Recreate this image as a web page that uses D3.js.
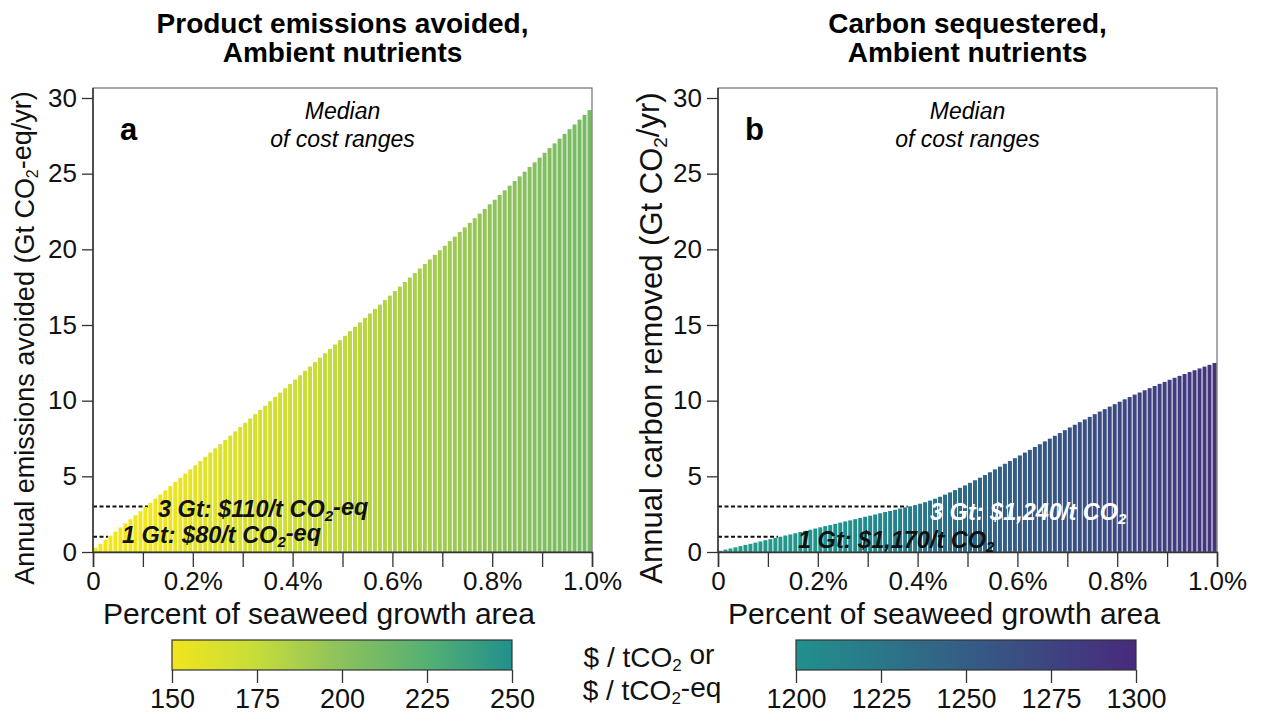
<!DOCTYPE html>
<html>
<head>
<meta charset="utf-8">
<script src="https://cdn.jsdelivr.net/npm/d3@7"></script>
<style>
  html, body { margin: 0; padding: 0; background: #fff; }
  svg { display: block; font-family: "Liberation Sans", Arial, Helvetica, sans-serif; }
</style>
</head>
<body>
<svg id="chart" width="1270" height="715"></svg>
<script>
// Annual product emissions avoided per 0.01% step of seaweed growth area (Gt CO2-eq/yr)
const emissionsAvoided = [
  0.27, 0.54, 0.81, 1.08, 1.35, 1.62, 1.89, 2.16, 2.43, 2.70,
  2.98, 3.25, 3.53, 3.80, 4.07, 4.35, 4.63, 4.90, 5.18, 5.46,
  5.73, 6.01, 6.29, 6.57, 6.85, 7.13, 7.41, 7.69, 7.97, 8.26,
  8.54, 8.82, 9.11, 9.39, 9.67, 9.96, 10.25, 10.53, 10.82, 11.10,
  11.39, 11.68, 11.97, 12.26, 12.55, 12.84, 13.13, 13.42, 13.71, 14.00,
  14.29, 14.59, 14.88, 15.17, 15.47, 15.76, 16.06, 16.35, 16.65, 16.94,
  17.24, 17.54, 17.84, 18.14, 18.43, 18.73, 19.03, 19.33, 19.64, 19.94,
  20.24, 20.54, 20.84, 21.15, 21.45, 21.75, 22.06, 22.36, 22.67, 22.98,
  23.28, 23.59, 23.90, 24.21, 24.51, 24.82, 25.13, 25.44, 25.75, 26.06,
  26.38, 26.69, 27.00, 27.31, 27.63, 27.94, 28.25, 28.57, 28.88, 29.20
];
// Median cost of each step ($/t CO2-eq)
const costAvoided = [
  130, 132, 134, 136, 138, 140, 142, 144, 146, 147,
  148, 149, 150, 151, 152, 153, 154, 155, 155, 156,
  157, 158, 159, 160, 160, 161, 162, 163, 163, 164,
  165, 166, 166, 167, 168, 168, 169, 170, 170, 171,
  172, 172, 173, 174, 174, 175, 176, 176, 177, 178,
  178, 179, 180, 180, 181, 181, 182, 183, 183, 184,
  185, 185, 186, 187, 187, 188, 189, 189, 190, 191,
  191, 192, 193, 193, 194, 194, 195, 196, 196, 197,
  198, 198, 199, 200, 200, 201, 202, 202, 203, 204,
  204, 205, 206, 206, 207, 207, 208, 209, 209, 210
];
// Annual carbon removed per 0.01% step of seaweed growth area (Gt CO2/yr)
const carbonRemoved = [
  0.08, 0.16, 0.23, 0.31, 0.39, 0.47, 0.54, 0.62, 0.70, 0.78,
  0.85, 0.93, 1.01, 1.09, 1.16, 1.24, 1.32, 1.40, 1.47, 1.55,
  1.63, 1.71, 1.78, 1.86, 1.94, 2.02, 2.09, 2.17, 2.25, 2.33,
  2.40, 2.48, 2.56, 2.64, 2.71, 2.79, 2.87, 2.95, 3.02, 3.10,
  3.19, 3.29, 3.40, 3.52, 3.65, 3.79, 3.94, 4.09, 4.24, 4.40,
  4.57, 4.74, 4.91, 5.09, 5.27, 5.46, 5.64, 5.83, 6.01, 6.20,
  6.38, 6.57, 6.75, 6.94, 7.12, 7.31, 7.49, 7.68, 7.86, 8.05,
  8.23, 8.41, 8.58, 8.76, 8.93, 9.11, 9.28, 9.44, 9.61, 9.77,
  9.93, 10.09, 10.24, 10.40, 10.54, 10.69, 10.83, 10.97, 11.11, 11.24,
  11.38, 11.51, 11.64, 11.76, 11.89, 12.01, 12.13, 12.25, 12.37, 12.49
];
// Median cost of each step ($/t CO2)
const costRemoved = [
  1175, 1176, 1177, 1178, 1179, 1180, 1181, 1182, 1183, 1184,
  1185, 1186, 1187, 1188, 1189, 1190, 1191, 1192, 1193, 1194,
  1195, 1196, 1197, 1198, 1199, 1200, 1201, 1203, 1204, 1205,
  1207, 1208, 1210, 1211, 1213, 1215, 1216, 1218, 1220, 1222,
  1224, 1226, 1228, 1229, 1231, 1232, 1234, 1235, 1237, 1238,
  1239, 1241, 1242, 1243, 1244, 1245, 1247, 1248, 1249, 1250,
  1251, 1252, 1253, 1254, 1255, 1256, 1257, 1258, 1259, 1260,
  1261, 1262, 1263, 1264, 1265, 1266, 1267, 1268, 1269, 1270,
  1271, 1272, 1273, 1274, 1275, 1276, 1277, 1278, 1279, 1280,
  1281, 1282, 1283, 1284, 1285, 1286, 1287, 1288, 1289, 1290
];

const xTickValues = [0, 0.1, 0.2, 0.3, 0.4, 0.5, 0.6, 0.7, 0.8, 0.9, 1.0];
const xTickLabels = ["0", "", "0.2%", "", "0.4%", "", "0.6%", "", "0.8%", "", "1.0%"];
const yTickValues = [0, 5, 10, 15, 20, 25, 30];
const colorTicksAvoided = [150, 175, 200, 225, 250];
const colorTicksRemoved = [1200, 1225, 1250, 1275, 1300];

// Colour ramps for the two cost scales
const rampAvoidedDomain = [150, 175, 200, 225, 250];
const rampAvoidedColors = ["#f1e51d", "#c6dc3b", "#8cc15e", "#55b072", "#21908d"];
const rampRemovedDomain = [1150, 1200, 1300];
const rampRemovedColors = ["#26a984", "#21908d", "#482a7c"];

// Cost thresholds marked on each panel
const markersAvoided = [
  { gt: 1, pre: "1 Gt: $80/t CO", post: "-eq", fill: "#111" },
  { gt: 3, pre: "3 Gt: $110/t CO", post: "-eq", fill: "#111" }
];
const markersRemoved = [
  { gt: 1, pre: "1 Gt: $1,170/t CO", post: "", fill: "#111" },
  { gt: 3, pre: "3 Gt: $1,240/t CO", post: "", fill: "#fff" }
];

const svg = d3.select("#chart");
const FONT = '"Liberation Sans", Arial, Helvetica, sans-serif';

const colorAvoided = d3.scaleLinear().domain(rampAvoidedDomain).range(rampAvoidedColors)
  .interpolate(d3.interpolateRgb).clamp(true);
const colorRemoved = d3.scaleLinear().domain(rampRemovedDomain).range(rampRemovedColors)
  .interpolate(d3.interpolateRgb).clamp(true);

function textWithSub(sel, pre, sub, post, subSize) {
  sel.append("tspan").text(pre);
  sel.append("tspan").attr("dy", "0.25em").attr("font-size", subSize).text(sub);
  sel.append("tspan").attr("dy", "-0.25em").text(post);
}

function panel(cfg) {
  const x0 = cfg.left, width = 499, top = 88, bottom = 552;
  const x = d3.scaleLinear().domain([0, 1]).range([x0, x0 + width]);
  const y = d3.scaleLinear().domain([0, 30]).range([bottom, 98]);
  const g = svg.append("g");
  const n = cfg.values.length;
  const step = 1 / n;

  // Titles
  const cx = x0 + width / 2;
  g.append("text").attr("x", cx).attr("y", 33).attr("text-anchor", "middle")
    .attr("font-size", 28).attr("font-weight", "bold").text(cfg.title1);
  g.append("text").attr("x", cx).attr("y", 62).attr("text-anchor", "middle")
    .attr("font-size", 28).attr("font-weight", "bold").text(cfg.title2);

  // Dashed threshold lines (drawn beneath the bars)
  cfg.markers.forEach(m => {
    const idx = cfg.values.findIndex(v => v >= m.gt);
    g.append("line")
      .attr("x1", x(0)).attr("x2", x(idx * step))
      .attr("y1", y(m.gt)).attr("y2", y(m.gt))
      .attr("stroke", "#111").attr("stroke-width", 2)
      .attr("stroke-dasharray", "4,2.5");
  });

  // Bars
  const bw = x(step) - x(0);
  g.append("g").selectAll("rect").data(cfg.values).join("rect")
    .attr("x", (d, i) => x(i * step) + bw * 0.1)
    .attr("width", bw * 0.8)
    .attr("y", d => y(d))
    .attr("height", d => y(0) - y(d))
    .attr("fill", (d, i) => cfg.color(cfg.costs[i]));

  // Frame
  g.append("rect").attr("x", x0).attr("y", top).attr("width", width).attr("height", bottom - top)
    .attr("fill", "none").attr("stroke", "#555").attr("stroke-width", 1);

  // Axes
  const xAxis = d3.axisBottom(x).tickValues(xTickValues).tickSize(15).tickPadding(5)
    .tickFormat((d, i) => xTickLabels[i]);
  const gx = g.append("g").attr("transform", `translate(0,${bottom})`).call(xAxis);
  gx.select(".domain").attr("stroke", "#333").attr("stroke-width", 1.5);
  gx.selectAll(".tick line").attr("stroke", "#333").attr("stroke-width", 1.3);
  gx.selectAll(".tick text").attr("font-size", 26).attr("font-family", FONT).attr("fill", "#111");

  const yAxis = d3.axisLeft(y).tickValues(yTickValues).tickSize(11).tickPadding(5);
  const gy = g.append("g").attr("transform", `translate(${x0},0)`).call(yAxis);
  gy.select(".domain").attr("stroke", "#333").attr("stroke-width", 1.5)
    .attr("d", `M0,${top}V${bottom}`);
  gy.selectAll(".tick line").attr("stroke", "#333").attr("stroke-width", 1.3);
  gy.selectAll(".tick text").attr("font-size", 26).attr("font-family", FONT).attr("fill", "#111");

  // Axis titles
  g.append("text").attr("x", x0 + 226).attr("y", 624).attr("text-anchor", "middle")
    .attr("font-size", 30).attr("fill", "#111").text("Percent of seaweed growth area");
  const yt = g.append("text")
    .attr("transform", `translate(${x0 - cfg.yTitleOffset},338) rotate(-90)`)
    .attr("text-anchor", "middle").attr("font-size", cfg.yTitleSize).attr("fill", "#111");
  textWithSub(yt, cfg.yPre, "2", cfg.yPost, Math.round(cfg.yTitleSize * 0.6));

  // Panel letter and note
  g.append("text").attr("x", x0 + 27).attr("y", 140).attr("font-size", 31)
    .attr("font-weight", "bold").text(cfg.letter);
  g.append("text").attr("x", cx).attr("y", 119).attr("text-anchor", "middle")
    .attr("font-size", 23).attr("font-style", "italic").text("Median");
  g.append("text").attr("x", cx).attr("y", 147).attr("text-anchor", "middle")
    .attr("font-size", 23).attr("font-style", "italic").text("of cost ranges");

  // Threshold annotations
  cfg.markers.forEach((m, i) => {
    const t = g.append("text").attr("x", cfg.labelPos[i][0]).attr("y", cfg.labelPos[i][1])
      .attr("font-size", 23.5).attr("font-weight", "bold").attr("font-style", "italic")
      .attr("fill", m.fill);
    textWithSub(t, m.pre, "2", m.post, 15);
  });
}

panel({
  left: 93, title1: "Product emissions avoided,", title2: "Ambient nutrients",
  values: emissionsAvoided, costs: costAvoided, color: colorAvoided,
  markers: markersAvoided, labelPos: [[122, 543], [158, 517]],
  yPre: "Annual emissions avoided (Gt CO", yPost: "-eq/yr)", letter: "a",
  yTitleSize: 27, yTitleOffset: 59
});
panel({
  left: 718, title1: "Carbon sequestered,", title2: "Ambient nutrients",
  values: carbonRemoved, costs: costRemoved, color: colorRemoved,
  markers: markersRemoved, labelPos: [[798, 548], [930, 520]],
  yPre: "Annual carbon removed (Gt CO", yPost: "/yr)", letter: "b",
  yTitleSize: 31, yTitleOffset: 56
});

// Colour bars
function colorbar(cfg) {
  const x = d3.scaleLinear().domain(d3.extent(cfg.ticks)).range([cfg.left, cfg.left + 340]);
  const id = "grad-" + cfg.name;
  const grad = svg.append("defs").append("linearGradient").attr("id", id)
    .attr("x1", "0%").attr("x2", "100%").attr("y1", "0%").attr("y2", "0%");
  const dom = x.domain();
  d3.range(0, 1.0001, 0.05).forEach(f => {
    const v = dom[0] + f * (dom[1] - dom[0]);
    grad.append("stop").attr("offset", (f * 100) + "%").attr("stop-color", cfg.color(v));
  });
  const g = svg.append("g");
  g.append("rect").attr("x", x.range()[0]).attr("y", 640).attr("width", 340).attr("height", 30)
    .attr("fill", `url(#${id})`).attr("stroke", "#333").attr("stroke-width", 1.2);
  const ax = d3.axisBottom(x).tickValues(cfg.ticks).tickSize(13).tickPadding(6).tickFormat(d3.format("d"));
  const ga = g.append("g").attr("transform", "translate(0,670)").call(ax);
  ga.select(".domain").remove();
  ga.selectAll(".tick line").attr("stroke", "#333").attr("stroke-width", 1.3);
  ga.selectAll(".tick text").attr("font-size", 27).attr("font-family", FONT).attr("fill", "#111");
}
colorbar({ name: "avoided", left: 172, ticks: colorTicksAvoided, color: colorAvoided });
colorbar({ name: "removed", left: 796, ticks: colorTicksRemoved, color: colorRemoved });

// Shared colour bar unit label
const u1 = svg.append("text").attr("x", 649).attr("y", 667).attr("text-anchor", "middle")
  .attr("font-size", 28).attr("fill", "#111");
textWithSub(u1, "$ / tCO", "2", " or", 17);
const u2 = svg.append("text").attr("x", 652).attr("y", 700).attr("text-anchor", "middle")
  .attr("font-size", 28).attr("fill", "#111");
textWithSub(u2, "$ / tCO", "2", "-eq", 17);
</script>
</body>
</html>
